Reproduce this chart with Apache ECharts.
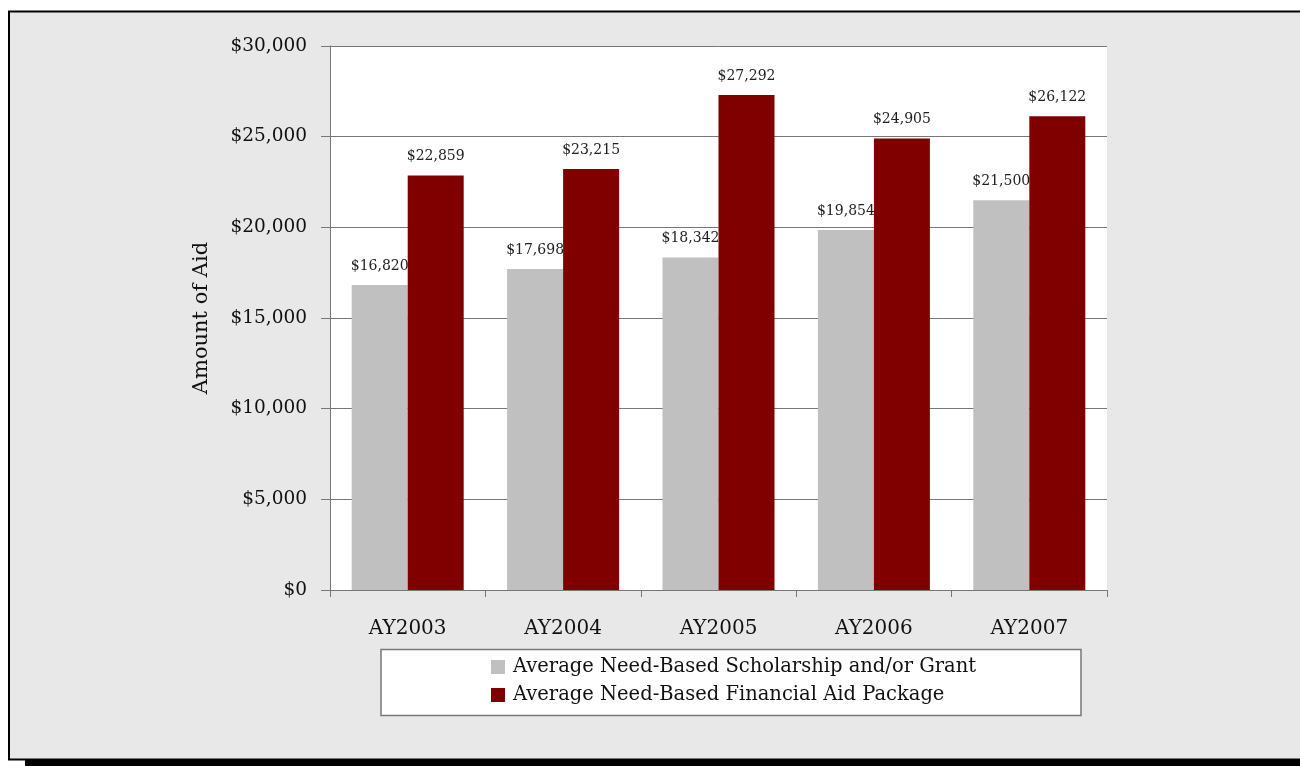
<!DOCTYPE html>
<html>
<head>
<meta charset="utf-8">
<script src="https://cdn.jsdelivr.net/npm/echarts@6/dist/echarts.min.js"></script>
<style>
html,body{margin:0;padding:0;background:#fff;}
#chart{width:1300px;height:766px;}
</style>
</head>
<body>
<div id="chart"></div>
<script>
const categories = ['AY2003', 'AY2004', 'AY2005', 'AY2006', 'AY2007'];
const scholarshipGrant = [16820, 17698, 18342, 19854, 21500];
const aidPackage = [22859, 23215, 27292, 24905, 26122];
const seriesNames = ['Average Need-Based Scholarship and/or Grant', 'Average Need-Based Financial Aid Package'];
const yTicks = [0, 5000, 10000, 15000, 20000, 25000, 30000];

const FONT = 'DejaVu Serif';
const fmt = v => '$' + v.toLocaleString('en-US');

const chart = echarts.init(document.getElementById('chart'));
chart.setOption({
  animation: false,
  backgroundColor: '#ffffff',
  textStyle: { fontFamily: FONT, color: '#111' },
  graphic: [
    { type: 'rect', z: -10, shape: { x: 25, y: 759, width: 1300, height: 7 }, style: { fill: '#000' } },
    { type: 'rect', z: -9, shape: { x: 9, y: 11.5, width: 1310, height: 748 }, style: { fill: '#e8e8e8', stroke: '#000', lineWidth: 2 } },
    { type: 'rect', z: -8, shape: { x: 330, y: 46, width: 777, height: 544 }, style: { fill: '#fff' } },
    { type: 'rect', z: -8, shape: { x: 381, y: 649.5, width: 700, height: 66 }, style: { fill: '#fff', stroke: '#777', lineWidth: 1.5 } }
  ],
  grid: { left: 330, right: 193, top: 46, bottom: 176, containLabel: false },
  legend: {
    orient: 'vertical',
    left: 491,
    top: 657,
    itemWidth: 14,
    itemHeight: 14,
    itemGap: 8,
    padding: 0,
    icon: 'rect',
    textStyle: { fontFamily: FONT, fontSize: 19.5, color: '#111', padding: [0, 0, 0, 3] },
    data: seriesNames
  },
  xAxis: {
    type: 'category',
    data: categories,
    axisLine: { lineStyle: { color: '#777', width: 1 } },
    axisTick: { show: true, length: 7, alignWithLabel: false, lineStyle: { color: '#777' } },
    axisLabel: { fontFamily: FONT, fontSize: 20, color: '#111', margin: 29 }
  },
  yAxis: {
    type: 'value',
    min: 0, max: 30000, interval: 5000,
    name: 'Amount of Aid',
    nameLocation: 'middle',
    nameGap: 118,
    nameTextStyle: { fontFamily: FONT, fontSize: 21, color: '#111' },
    axisLine: { show: true, lineStyle: { color: '#777', width: 1 } },
    axisTick: { show: true, length: 9, lineStyle: { color: '#777' } },
    splitLine: { lineStyle: { color: '#777', width: 1 } },
    axisLabel: {
      fontFamily: FONT, fontSize: 18.5, color: '#111', margin: 23,
      formatter: v => yTicks.includes(v) ? fmt(v) : ''
    }
  },
  series: [
    {
      name: seriesNames[0], type: 'bar', data: scholarshipGrant,
      barWidth: 56, barGap: '0%',
      itemStyle: { color: '#c0c0c0' },
      label: { show: true, position: 'top', distance: 12, fontFamily: FONT, fontSize: 14, color: '#222', formatter: p => fmt(p.value) }
    },
    {
      name: seriesNames[1], type: 'bar', data: aidPackage,
      barWidth: 56, barGap: '0%',
      itemStyle: { color: '#800000' },
      label: { show: true, position: 'top', distance: 12, fontFamily: FONT, fontSize: 14, color: '#222', formatter: p => fmt(p.value) }
    }
  ]
});
</script>
</body>
</html>
